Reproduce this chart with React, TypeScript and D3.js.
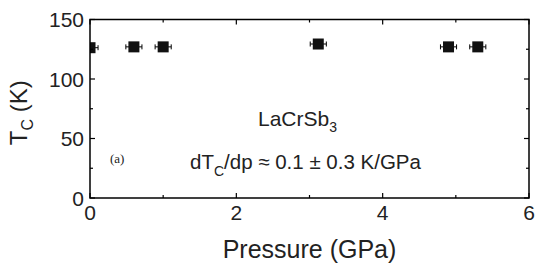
import React from "react";
import * as d3 from "d3";

const pressure = [0, 0.6, 1.0, 3.12, 4.9, 5.3];
const tc = [126.3, 127.0, 127.0, 129.4, 127.0, 127.0];
const pErr = [0.11, 0.11, 0.11, 0.11, 0.11, 0.11];
const xMajorTicks = [0, 2, 4, 6];
const xMinorTicks = [1, 3, 5];
const yMajorTicks = [0, 50, 100, 150];
const yMinorTicks = [25, 75, 125];

const W = 545, H = 274;
const M = { left: 90, right: 16, top: 19.5, bottom: 76 };

export default function App() {
  const x = d3.scaleLinear().domain([0, 6]).range([M.left, W - M.right]);
  const y = d3.scaleLinear().domain([0, 150]).range([H - M.bottom, M.top]);
  const x0 = x(0), x1 = x(6), y0 = y(0), y1 = y(150);
  const font = "'Liberation Sans', Arial, Helvetica, sans-serif";
  const sq = 11;
  return (
    <svg width={W} height={H} style={{ position: "absolute", left: 0, top: 0, background: "#fff" }}>
      <defs>
        <clipPath id="clip">
          <rect x={x0} y={y1} width={x1 - x0} height={y0 - y1} />
        </clipPath>
      </defs>
      <g clipPath="url(#clip)">
        {pressure.map((p, i) => (
          <g key={i}>
            <line x1={x(p - pErr[i])} x2={x(p + pErr[i])} y1={y(tc[i])} y2={y(tc[i])} stroke="#000" strokeWidth={1} />
            <line x1={x(p - pErr[i])} x2={x(p - pErr[i])} y1={y(tc[i]) - 2.5} y2={y(tc[i]) + 2.5} stroke="#000" strokeWidth={1} />
            <line x1={x(p + pErr[i])} x2={x(p + pErr[i])} y1={y(tc[i]) - 2.5} y2={y(tc[i]) + 2.5} stroke="#000" strokeWidth={1} />
            <rect x={x(p) - sq / 2} y={y(tc[i]) - sq / 2} width={sq} height={sq} fill="#111" />
          </g>
        ))}
      </g>
      <rect x={x0} y={y1} width={x1 - x0} height={y0 - y1} fill="none" stroke="#000" strokeWidth={1.5} />
      {xMajorTicks.map((t) => (
        <g key={"xM" + t}>
          <line x1={x(t)} x2={x(t)} y1={y0} y2={y0 - 5} stroke="#000" strokeWidth={1.2} />
          <line x1={x(t)} x2={x(t)} y1={y1} y2={y1 + 5} stroke="#000" strokeWidth={1.2} />
          <text x={x(t)} y={y0 + 22} textAnchor="middle" fontFamily={font} fontSize={21} fill="#222">{t}</text>
        </g>
      ))}
      {xMinorTicks.map((t) => (
        <g key={"xm" + t}>
          <line x1={x(t)} x2={x(t)} y1={y0} y2={y0 - 3} stroke="#000" strokeWidth={1.2} />
          <line x1={x(t)} x2={x(t)} y1={y1} y2={y1 + 3} stroke="#000" strokeWidth={1.2} />
        </g>
      ))}
      {yMajorTicks.map((t) => (
        <g key={"yM" + t}>
          <line x1={x0} x2={x0 + 5} y1={y(t)} y2={y(t)} stroke="#000" strokeWidth={1.2} />
          <line x1={x1} x2={x1 - 5} y1={y(t)} y2={y(t)} stroke="#000" strokeWidth={1.2} />
          <text x={x0 - 6} y={y(t) + 7.5} textAnchor="end" fontFamily={font} fontSize={21} fill="#222">{t}</text>
        </g>
      ))}
      {yMinorTicks.map((t) => (
        <g key={"ym" + t}>
          <line x1={x0} x2={x0 + 3} y1={y(t)} y2={y(t)} stroke="#000" strokeWidth={1.2} />
          <line x1={x1} x2={x1 - 3} y1={y(t)} y2={y(t)} stroke="#000" strokeWidth={1.2} />
        </g>
      ))}
      <text x={(x0 + x1) / 2} y={258} textAnchor="middle" fontFamily={font} fontSize={25} fill="#222">Pressure (GPa)</text>
      <text transform={`translate(27, ${(y0 + y1) / 2 + 4}) rotate(-90)`} textAnchor="middle" fontFamily={font} fontSize={24} fill="#222">
        T<tspan fontSize={16} dy={6}>C</tspan><tspan dy={-6}> (K)</tspan>
      </text>
      <text x={258} y={126} fontFamily={font} fontSize={21} fill="#222">
        LaCrSb<tspan fontSize={14} dy={6}>3</tspan>
      </text>
      <text x={190} y={169} fontFamily={font} fontSize={20.5} fill="#222">
        dT<tspan fontSize={14} dy={7}>C</tspan><tspan dy={-7}>/dp ≈ 0.1 ± 0.3 K/GPa</tspan>
      </text>
      <text x={110} y={163} fontFamily="'Liberation Serif', 'Times New Roman', serif" fontSize={13} fill="#222">(a)</text>
    </svg>
  );
}
